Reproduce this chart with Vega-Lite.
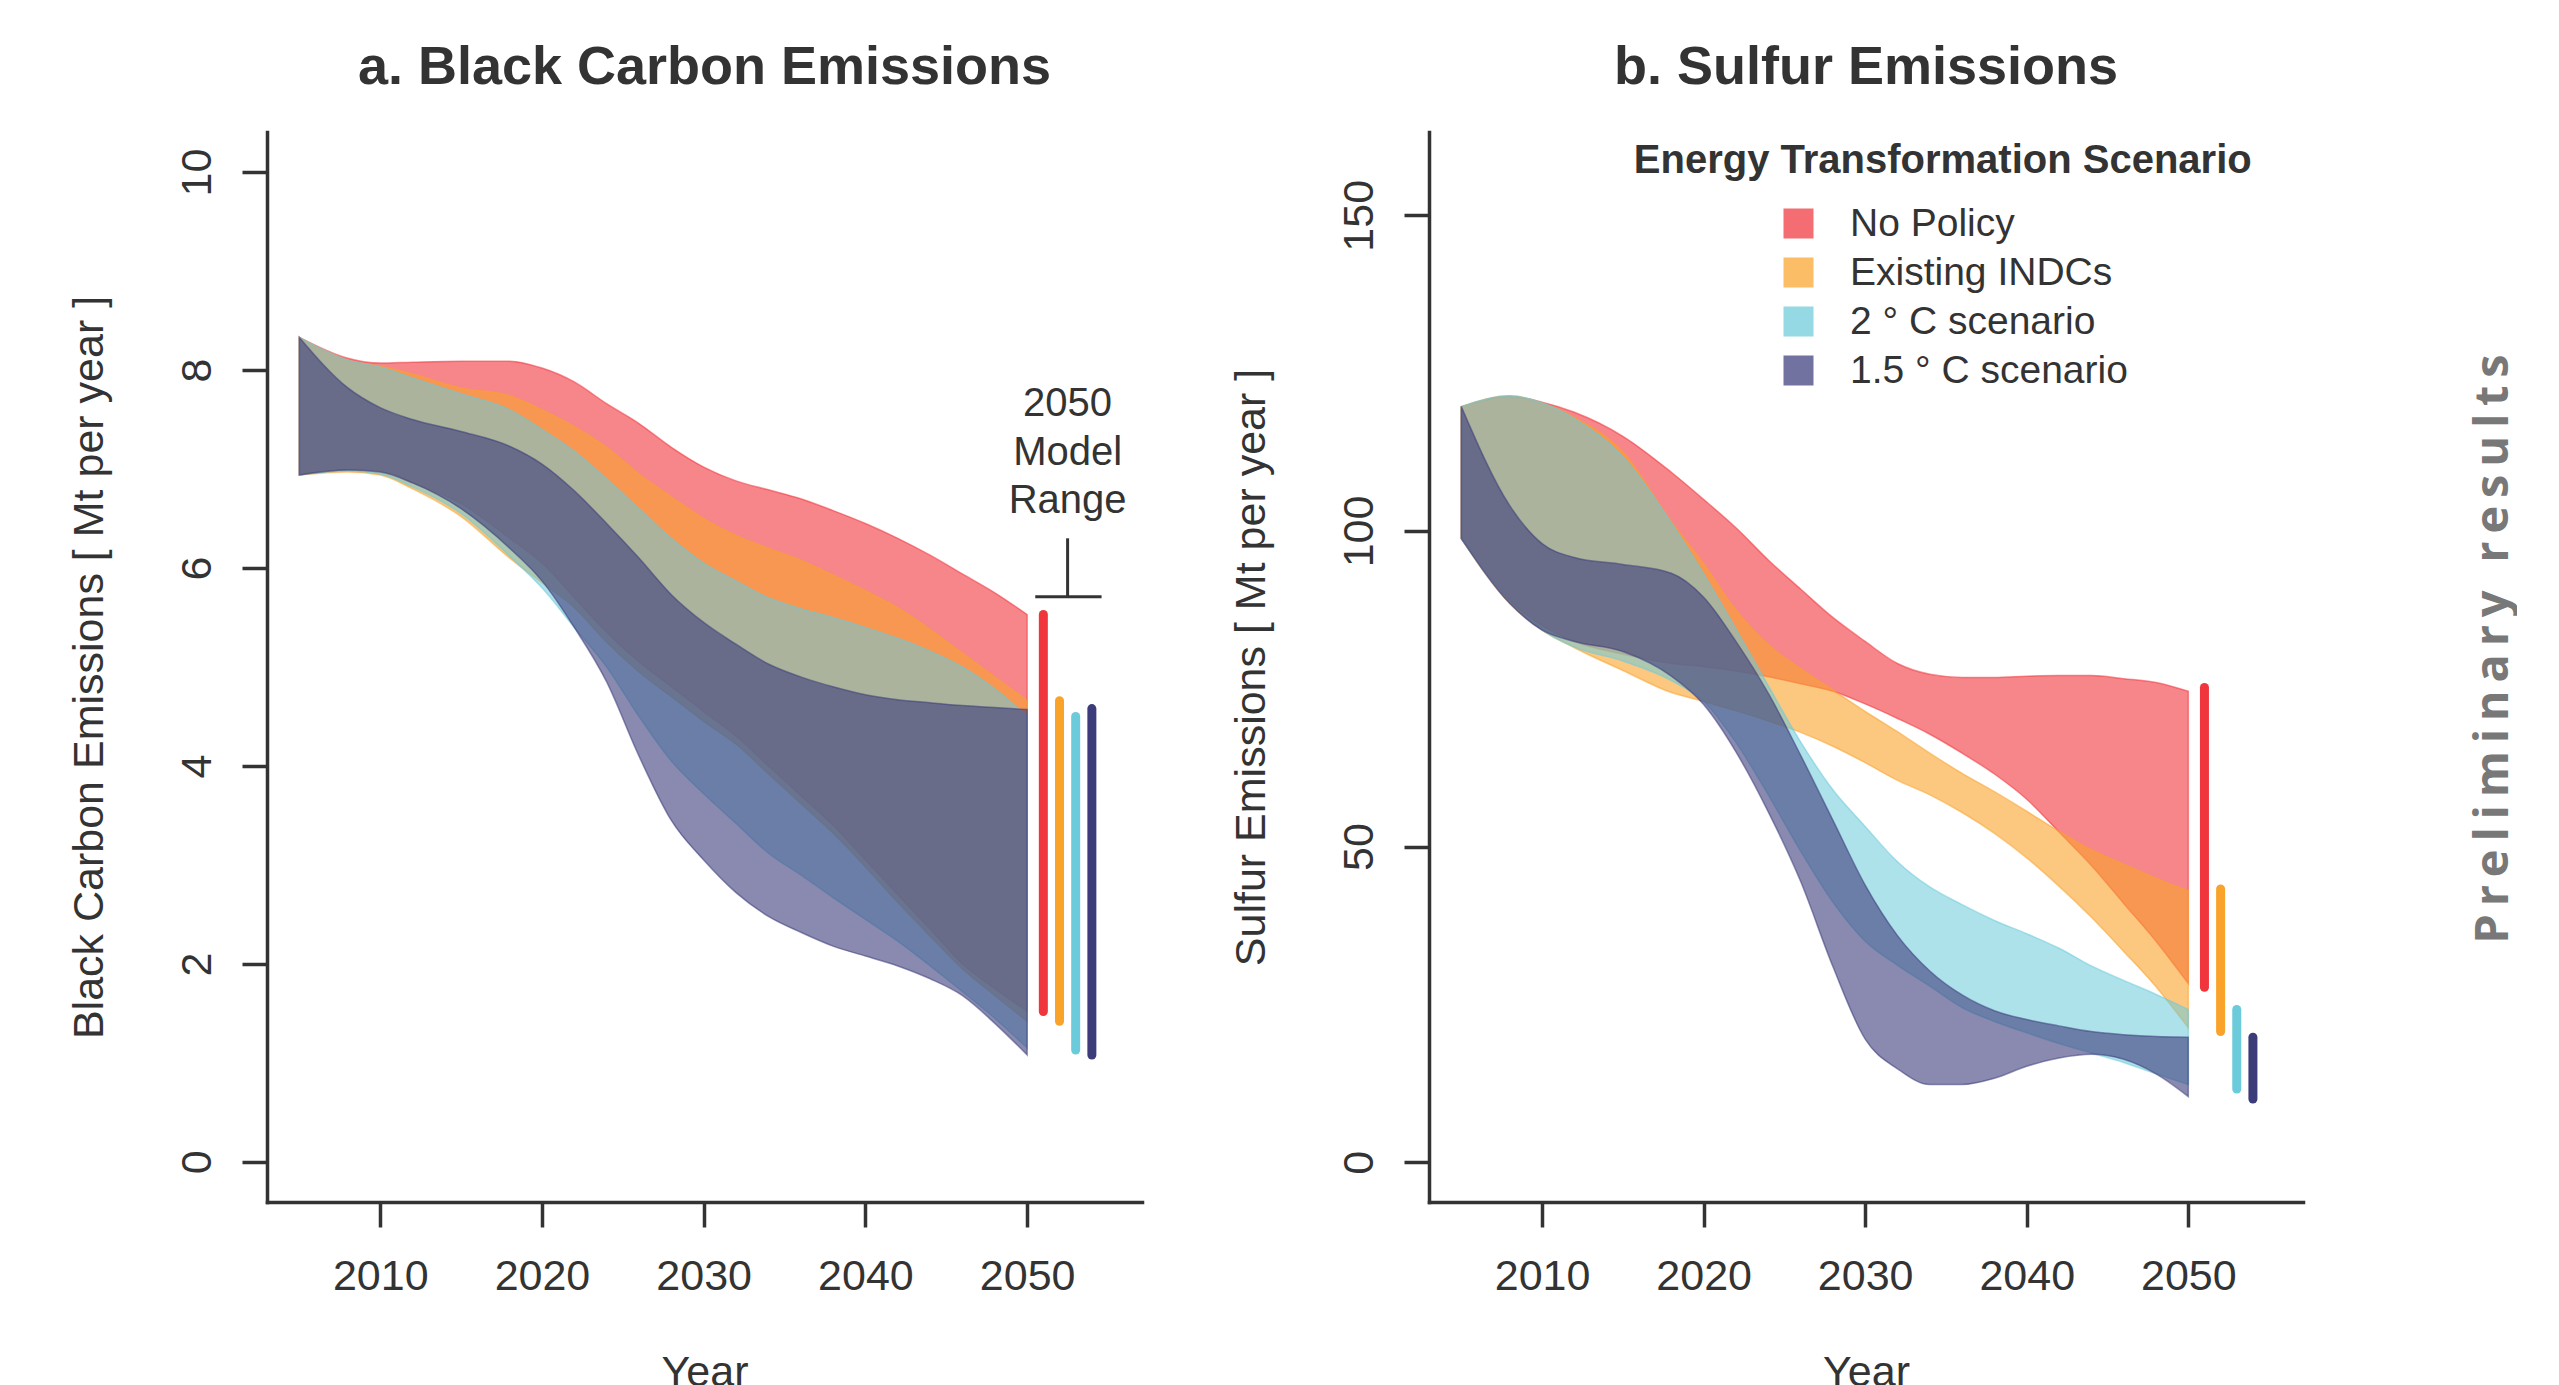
{
  "$schema": "https://vega.github.io/schema/vega-lite/v6.json",
  "padding": {"left": 68, "top": 41, "right": 0, "bottom": 0},
  "background": "white",
  "config": {
    "view": {"stroke": null},
    "font": "Liberation Sans",
    "axis": {
      "domainColor": "#333333", "domainWidth": 3.5, "domainCap": "square",
      "tickColor": "#333333", "tickWidth": 3.5, "tickSize": 25,
      "labelFont": "Liberation Sans", "labelFontSize": 43, "labelColor": "#333333",
      "titleFont": "Liberation Sans", "titleFontSize": 43, "titleFontWeight": "normal", "titleColor": "#333333",
      "grid": false, "labelFlush": false, "labelOverlap": false
    },
    "title": {"font": "Liberation Sans", "fontSize": 54, "fontWeight": "bold", "color": "#333333", "anchor": "middle", "frame": "group", "baseline": "alphabetic", "offset": 37}
  },
  "datasets": {
    "bc": [
      {"s": "No Policy", "year": 2005, "lo": 6.94, "hi": 8.33},
      {"s": "No Policy", "year": 2008, "lo": 6.99, "hi": 8.12},
      {"s": "No Policy", "year": 2010, "lo": 6.98, "hi": 8.07},
      {"s": "No Policy", "year": 2012, "lo": 6.86, "hi": 8.08},
      {"s": "No Policy", "year": 2015, "lo": 6.65, "hi": 8.09},
      {"s": "No Policy", "year": 2018, "lo": 6.3, "hi": 8.09},
      {"s": "No Policy", "year": 2020, "lo": 6.05, "hi": 8.02},
      {"s": "No Policy", "year": 2022, "lo": 5.7, "hi": 7.88},
      {"s": "No Policy", "year": 2024, "lo": 5.35, "hi": 7.66},
      {"s": "No Policy", "year": 2026, "lo": 5.05, "hi": 7.46},
      {"s": "No Policy", "year": 2028, "lo": 4.8, "hi": 7.22},
      {"s": "No Policy", "year": 2030, "lo": 4.55, "hi": 7.02},
      {"s": "No Policy", "year": 2032, "lo": 4.3, "hi": 6.88},
      {"s": "No Policy", "year": 2034, "lo": 4.0, "hi": 6.79},
      {"s": "No Policy", "year": 2036, "lo": 3.7, "hi": 6.7},
      {"s": "No Policy", "year": 2038, "lo": 3.4, "hi": 6.58},
      {"s": "No Policy", "year": 2040, "lo": 3.05, "hi": 6.45},
      {"s": "No Policy", "year": 2042, "lo": 2.7, "hi": 6.3},
      {"s": "No Policy", "year": 2044, "lo": 2.35, "hi": 6.13},
      {"s": "No Policy", "year": 2046, "lo": 2.0, "hi": 5.94},
      {"s": "No Policy", "year": 2048, "lo": 1.75, "hi": 5.75},
      {"s": "No Policy", "year": 2050, "lo": 1.52, "hi": 5.53},
      {"s": "Existing INDCs", "year": 2005, "lo": 6.94, "hi": 8.33},
      {"s": "Existing INDCs", "year": 2008, "lo": 6.97, "hi": 8.1},
      {"s": "Existing INDCs", "year": 2010, "lo": 6.94, "hi": 8.04},
      {"s": "Existing INDCs", "year": 2012, "lo": 6.8, "hi": 7.96},
      {"s": "Existing INDCs", "year": 2015, "lo": 6.52, "hi": 7.82},
      {"s": "Existing INDCs", "year": 2018, "lo": 6.1, "hi": 7.74},
      {"s": "Existing INDCs", "year": 2020, "lo": 5.85, "hi": 7.6},
      {"s": "Existing INDCs", "year": 2022, "lo": 5.6, "hi": 7.43},
      {"s": "Existing INDCs", "year": 2024, "lo": 5.25, "hi": 7.22},
      {"s": "Existing INDCs", "year": 2026, "lo": 4.95, "hi": 6.95},
      {"s": "Existing INDCs", "year": 2028, "lo": 4.7, "hi": 6.72},
      {"s": "Existing INDCs", "year": 2030, "lo": 4.45, "hi": 6.5},
      {"s": "Existing INDCs", "year": 2032, "lo": 4.22, "hi": 6.33},
      {"s": "Existing INDCs", "year": 2034, "lo": 3.92, "hi": 6.2},
      {"s": "Existing INDCs", "year": 2036, "lo": 3.62, "hi": 6.08},
      {"s": "Existing INDCs", "year": 2038, "lo": 3.32, "hi": 5.93},
      {"s": "Existing INDCs", "year": 2040, "lo": 2.98, "hi": 5.77},
      {"s": "Existing INDCs", "year": 2042, "lo": 2.62, "hi": 5.6},
      {"s": "Existing INDCs", "year": 2044, "lo": 2.28, "hi": 5.38},
      {"s": "Existing INDCs", "year": 2046, "lo": 1.95, "hi": 5.14},
      {"s": "Existing INDCs", "year": 2048, "lo": 1.68, "hi": 4.9},
      {"s": "Existing INDCs", "year": 2050, "lo": 1.42, "hi": 4.66},
      {"s": "2 ° C scenario", "year": 2005, "lo": 6.94, "hi": 8.33},
      {"s": "2 ° C scenario", "year": 2008, "lo": 6.98, "hi": 8.1},
      {"s": "2 ° C scenario", "year": 2010, "lo": 6.95, "hi": 8.03},
      {"s": "2 ° C scenario", "year": 2012, "lo": 6.82, "hi": 7.92},
      {"s": "2 ° C scenario", "year": 2015, "lo": 6.55, "hi": 7.76},
      {"s": "2 ° C scenario", "year": 2018, "lo": 6.12, "hi": 7.6},
      {"s": "2 ° C scenario", "year": 2020, "lo": 5.8, "hi": 7.4},
      {"s": "2 ° C scenario", "year": 2022, "lo": 5.4, "hi": 7.18},
      {"s": "2 ° C scenario", "year": 2024, "lo": 5.0, "hi": 6.9},
      {"s": "2 ° C scenario", "year": 2026, "lo": 4.5, "hi": 6.6},
      {"s": "2 ° C scenario", "year": 2028, "lo": 4.05, "hi": 6.3},
      {"s": "2 ° C scenario", "year": 2030, "lo": 3.72, "hi": 6.05},
      {"s": "2 ° C scenario", "year": 2032, "lo": 3.42, "hi": 5.87},
      {"s": "2 ° C scenario", "year": 2034, "lo": 3.12, "hi": 5.7},
      {"s": "2 ° C scenario", "year": 2036, "lo": 2.9, "hi": 5.59},
      {"s": "2 ° C scenario", "year": 2038, "lo": 2.67, "hi": 5.5},
      {"s": "2 ° C scenario", "year": 2040, "lo": 2.45, "hi": 5.4},
      {"s": "2 ° C scenario", "year": 2042, "lo": 2.23, "hi": 5.29},
      {"s": "2 ° C scenario", "year": 2044, "lo": 1.98, "hi": 5.16},
      {"s": "2 ° C scenario", "year": 2046, "lo": 1.72, "hi": 5.0},
      {"s": "2 ° C scenario", "year": 2048, "lo": 1.45, "hi": 4.78},
      {"s": "2 ° C scenario", "year": 2050, "lo": 1.15, "hi": 4.5},
      {"s": "1.5 ° C scenario", "year": 2005, "lo": 6.94, "hi": 8.33},
      {"s": "1.5 ° C scenario", "year": 2008, "lo": 6.99, "hi": 7.82},
      {"s": "1.5 ° C scenario", "year": 2010, "lo": 6.97, "hi": 7.62},
      {"s": "1.5 ° C scenario", "year": 2012, "lo": 6.86, "hi": 7.5},
      {"s": "1.5 ° C scenario", "year": 2015, "lo": 6.6, "hi": 7.38},
      {"s": "1.5 ° C scenario", "year": 2018, "lo": 6.2, "hi": 7.23},
      {"s": "1.5 ° C scenario", "year": 2020, "lo": 5.87, "hi": 7.05},
      {"s": "1.5 ° C scenario", "year": 2022, "lo": 5.4, "hi": 6.78},
      {"s": "1.5 ° C scenario", "year": 2024, "lo": 4.85, "hi": 6.45},
      {"s": "1.5 ° C scenario", "year": 2026, "lo": 4.1, "hi": 6.1},
      {"s": "1.5 ° C scenario", "year": 2028, "lo": 3.45, "hi": 5.73},
      {"s": "1.5 ° C scenario", "year": 2030, "lo": 3.05, "hi": 5.45},
      {"s": "1.5 ° C scenario", "year": 2032, "lo": 2.72, "hi": 5.23},
      {"s": "1.5 ° C scenario", "year": 2034, "lo": 2.48, "hi": 5.03},
      {"s": "1.5 ° C scenario", "year": 2036, "lo": 2.32, "hi": 4.9},
      {"s": "1.5 ° C scenario", "year": 2038, "lo": 2.18, "hi": 4.8},
      {"s": "1.5 ° C scenario", "year": 2040, "lo": 2.08, "hi": 4.72},
      {"s": "1.5 ° C scenario", "year": 2042, "lo": 1.98, "hi": 4.67},
      {"s": "1.5 ° C scenario", "year": 2044, "lo": 1.85, "hi": 4.64},
      {"s": "1.5 ° C scenario", "year": 2046, "lo": 1.68, "hi": 4.61},
      {"s": "1.5 ° C scenario", "year": 2048, "lo": 1.4, "hi": 4.59},
      {"s": "1.5 ° C scenario", "year": 2050, "lo": 1.08, "hi": 4.57}
    ],
    "so": [
      {"s": "No Policy", "year": 2005, "lo": 98.8, "hi": 119.7},
      {"s": "No Policy", "year": 2008, "lo": 89, "hi": 121.3},
      {"s": "No Policy", "year": 2010, "lo": 85, "hi": 120.4},
      {"s": "No Policy", "year": 2012, "lo": 82.5, "hi": 118.8},
      {"s": "No Policy", "year": 2015, "lo": 80.5, "hi": 115},
      {"s": "No Policy", "year": 2018, "lo": 79, "hi": 109.3},
      {"s": "No Policy", "year": 2020, "lo": 78.5, "hi": 105},
      {"s": "No Policy", "year": 2022, "lo": 77.8, "hi": 100.5},
      {"s": "No Policy", "year": 2024, "lo": 76.9, "hi": 95.4},
      {"s": "No Policy", "year": 2026, "lo": 75.8, "hi": 90.8},
      {"s": "No Policy", "year": 2028, "lo": 74.6, "hi": 86.3},
      {"s": "No Policy", "year": 2030, "lo": 72.6, "hi": 82.5},
      {"s": "No Policy", "year": 2032, "lo": 70.3, "hi": 79},
      {"s": "No Policy", "year": 2034, "lo": 67.8, "hi": 77.3},
      {"s": "No Policy", "year": 2036, "lo": 64.8, "hi": 76.8},
      {"s": "No Policy", "year": 2038, "lo": 61.5, "hi": 76.8},
      {"s": "No Policy", "year": 2040, "lo": 57.5, "hi": 77},
      {"s": "No Policy", "year": 2042, "lo": 52.3, "hi": 77.1},
      {"s": "No Policy", "year": 2044, "lo": 47, "hi": 77.1},
      {"s": "No Policy", "year": 2046, "lo": 41, "hi": 76.6},
      {"s": "No Policy", "year": 2048, "lo": 35, "hi": 76},
      {"s": "No Policy", "year": 2050, "lo": 28.3, "hi": 74.6},
      {"s": "Existing INDCs", "year": 2005, "lo": 98.8, "hi": 119.7},
      {"s": "Existing INDCs", "year": 2008, "lo": 88.5, "hi": 121.4},
      {"s": "Existing INDCs", "year": 2010, "lo": 84.3, "hi": 120.3},
      {"s": "Existing INDCs", "year": 2012, "lo": 81.5, "hi": 118},
      {"s": "Existing INDCs", "year": 2015, "lo": 77.9, "hi": 112.5},
      {"s": "Existing INDCs", "year": 2018, "lo": 74.4, "hi": 101.5},
      {"s": "Existing INDCs", "year": 2020, "lo": 73, "hi": 94.8},
      {"s": "Existing INDCs", "year": 2022, "lo": 71.5, "hi": 87.5},
      {"s": "Existing INDCs", "year": 2024, "lo": 69.9, "hi": 82},
      {"s": "Existing INDCs", "year": 2026, "lo": 68.1, "hi": 78.2},
      {"s": "Existing INDCs", "year": 2028, "lo": 65.9, "hi": 74.8},
      {"s": "Existing INDCs", "year": 2030, "lo": 63.3, "hi": 71.4},
      {"s": "Existing INDCs", "year": 2032, "lo": 60.5, "hi": 68.2},
      {"s": "Existing INDCs", "year": 2034, "lo": 58.2, "hi": 64.8},
      {"s": "Existing INDCs", "year": 2036, "lo": 55.4, "hi": 61.6},
      {"s": "Existing INDCs", "year": 2038, "lo": 52.1, "hi": 58.7},
      {"s": "Existing INDCs", "year": 2040, "lo": 48.2, "hi": 55.6},
      {"s": "Existing INDCs", "year": 2042, "lo": 43.7, "hi": 52.4},
      {"s": "Existing INDCs", "year": 2044, "lo": 38.8, "hi": 49.5},
      {"s": "Existing INDCs", "year": 2046, "lo": 33.4, "hi": 47.2},
      {"s": "Existing INDCs", "year": 2048, "lo": 27.8, "hi": 45},
      {"s": "Existing INDCs", "year": 2050, "lo": 21.3, "hi": 43},
      {"s": "2 ° C scenario", "year": 2005, "lo": 98.8, "hi": 119.7},
      {"s": "2 ° C scenario", "year": 2008, "lo": 88.8, "hi": 121.4},
      {"s": "2 ° C scenario", "year": 2010, "lo": 84.3, "hi": 120.3},
      {"s": "2 ° C scenario", "year": 2012, "lo": 81.6, "hi": 117.8},
      {"s": "2 ° C scenario", "year": 2015, "lo": 79.4, "hi": 111.8},
      {"s": "2 ° C scenario", "year": 2018, "lo": 76.3, "hi": 101.3},
      {"s": "2 ° C scenario", "year": 2020, "lo": 73, "hi": 93.2},
      {"s": "2 ° C scenario", "year": 2022, "lo": 66.5, "hi": 84.5},
      {"s": "2 ° C scenario", "year": 2024, "lo": 58.2, "hi": 75.5},
      {"s": "2 ° C scenario", "year": 2026, "lo": 49.3, "hi": 66.6},
      {"s": "2 ° C scenario", "year": 2028, "lo": 41.2, "hi": 59},
      {"s": "2 ° C scenario", "year": 2030, "lo": 35, "hi": 53.2},
      {"s": "2 ° C scenario", "year": 2032, "lo": 31.2, "hi": 47.6},
      {"s": "2 ° C scenario", "year": 2034, "lo": 27.9, "hi": 43.6},
      {"s": "2 ° C scenario", "year": 2036, "lo": 24.5, "hi": 40.8},
      {"s": "2 ° C scenario", "year": 2038, "lo": 22.3, "hi": 38.3},
      {"s": "2 ° C scenario", "year": 2040, "lo": 20.5, "hi": 36.2},
      {"s": "2 ° C scenario", "year": 2042, "lo": 18.8, "hi": 33.9},
      {"s": "2 ° C scenario", "year": 2044, "lo": 17.3, "hi": 31.1},
      {"s": "2 ° C scenario", "year": 2046, "lo": 15.8, "hi": 28.8},
      {"s": "2 ° C scenario", "year": 2048, "lo": 14, "hi": 26.6},
      {"s": "2 ° C scenario", "year": 2050, "lo": 12.3, "hi": 24.2},
      {"s": "1.5 ° C scenario", "year": 2005, "lo": 98.8, "hi": 119.7},
      {"s": "1.5 ° C scenario", "year": 2008, "lo": 88.5, "hi": 104},
      {"s": "1.5 ° C scenario", "year": 2010, "lo": 84.3, "hi": 98},
      {"s": "1.5 ° C scenario", "year": 2012, "lo": 82.5, "hi": 95.8},
      {"s": "1.5 ° C scenario", "year": 2015, "lo": 80.9, "hi": 94.7},
      {"s": "1.5 ° C scenario", "year": 2018, "lo": 77, "hi": 93.3},
      {"s": "1.5 ° C scenario", "year": 2020, "lo": 72.5, "hi": 89.5},
      {"s": "1.5 ° C scenario", "year": 2022, "lo": 65, "hi": 82.5},
      {"s": "1.5 ° C scenario", "year": 2024, "lo": 55.5, "hi": 74.3},
      {"s": "1.5 ° C scenario", "year": 2026, "lo": 44.5, "hi": 64.5},
      {"s": "1.5 ° C scenario", "year": 2028, "lo": 31, "hi": 54.2},
      {"s": "1.5 ° C scenario", "year": 2030, "lo": 19.5, "hi": 43.9},
      {"s": "1.5 ° C scenario", "year": 2032, "lo": 14.8, "hi": 35.9},
      {"s": "1.5 ° C scenario", "year": 2034, "lo": 12.3, "hi": 30.3},
      {"s": "1.5 ° C scenario", "year": 2036, "lo": 12.3, "hi": 26.5},
      {"s": "1.5 ° C scenario", "year": 2038, "lo": 13.3, "hi": 24},
      {"s": "1.5 ° C scenario", "year": 2040, "lo": 15.2, "hi": 22.6},
      {"s": "1.5 ° C scenario", "year": 2042, "lo": 16.5, "hi": 21.6},
      {"s": "1.5 ° C scenario", "year": 2044, "lo": 17.1, "hi": 20.7},
      {"s": "1.5 ° C scenario", "year": 2046, "lo": 16.3, "hi": 20.2},
      {"s": "1.5 ° C scenario", "year": 2048, "lo": 14, "hi": 19.9},
      {"s": "1.5 ° C scenario", "year": 2050, "lo": 10.4, "hi": 19.8}
    ],
    "bcr": [
      {"s": "No Policy", "year": 2051, "lo": 1.52, "hi": 5.53},
      {"s": "Existing INDCs", "year": 2052, "lo": 1.42, "hi": 4.66},
      {"s": "2 ° C scenario", "year": 2053, "lo": 1.13, "hi": 4.5},
      {"s": "1.5 ° C scenario", "year": 2054, "lo": 1.08, "hi": 4.58}
    ],
    "sor": [
      {"s": "No Policy", "year": 2051, "lo": 27.7, "hi": 75.2},
      {"s": "Existing INDCs", "year": 2052, "lo": 20.7, "hi": 43.3},
      {"s": "2 ° C scenario", "year": 2053, "lo": 11.6, "hi": 24.2},
      {"s": "1.5 ° C scenario", "year": 2054, "lo": 10.0, "hi": 19.8}
    ],
    "note": [
      {"t": "2050", "v": 7.54},
      {"t": "Model", "v": 7.04},
      {"t": "Range", "v": 6.56}
    ]
  },
  "resolve": {"scale": {"color": "independent"}},
  "spacing": 88,
  "hconcat": [
    {
      "width": 875,
      "height": 1070,
      "title": {"text": "a. Black Carbon Emissions"},
      "layer": [
        {
          "data": {"name": "bc"},
          "transform": [{"filter": "datum.s === 'No Policy'"}],
          "mark": {"type": "area", "interpolate": "monotone", "fillOpacity": 0.6, "stroke": "#f0353c", "strokeWidth": 1.5, "strokeOpacity": 0.55},
          "encoding": {
            "x": {"field": "year", "type": "quantitative", "scale": {"domain": [2003, 2057.1], "nice": false, "zero": false},
                  "axis": {"values": [2010, 2020, 2030, 2040, 2050], "format": "d", "labelBaseline": "alphabetic", "labelPadding": 62, "title": "Year", "titleBaseline": "alphabetic", "titleY": 183}},
            "y": {"field": "lo", "type": "quantitative", "scale": {"domain": [-0.405, 10.405], "nice": false, "zero": false},
                  "axis": {"values": [0, 2, 4, 6, 8, 10], "format": "d", "labelAngle": -90, "labelAlign": "center", "labelBaseline": "alphabetic", "labelPadding": 32, "title": "Black Carbon Emissions [ Mt per year ]", "titleAngle": -90, "titleBaseline": "middle", "titleAlign": "center", "titleX": -178, "titleY": 535}},
            "y2": {"field": "hi"},
            "color": {"field": "s", "type": "nominal", "legend": null,
                      "scale": {"domain": ["No Policy", "Existing INDCs", "2 ° C scenario", "1.5 ° C scenario"], "range": ["#f0353c", "#faa32b", "#6ccbda", "#3c3c7b"]}}
          }
        },
        {
          "data": {"name": "bc"},
          "transform": [{"filter": "datum.s === 'Existing INDCs'"}],
          "mark": {"type": "area", "interpolate": "monotone", "fillOpacity": 0.6, "stroke": "#faa32b", "strokeWidth": 1.5, "strokeOpacity": 0.55},
          "encoding": {
            "x": {"field": "year", "type": "quantitative"},
            "y": {"field": "lo", "type": "quantitative"},
            "y2": {"field": "hi"},
            "color": {"field": "s", "type": "nominal", "legend": null}
          }
        },
        {
          "data": {"name": "bc"},
          "transform": [{"filter": "datum.s === '2 ° C scenario'"}],
          "mark": {"type": "area", "interpolate": "monotone", "fillOpacity": 0.55, "stroke": "#6ccbda", "strokeWidth": 1.5, "strokeOpacity": 0.55},
          "encoding": {
            "x": {"field": "year", "type": "quantitative"},
            "y": {"field": "lo", "type": "quantitative"},
            "y2": {"field": "hi"},
            "color": {"field": "s", "type": "nominal", "legend": null}
          }
        },
        {
          "data": {"name": "bc"},
          "transform": [{"filter": "datum.s === '1.5 ° C scenario'"}],
          "mark": {"type": "area", "interpolate": "monotone", "fillOpacity": 0.6, "stroke": "#3c3c7b", "strokeWidth": 1.5, "strokeOpacity": 0.55},
          "encoding": {
            "x": {"field": "year", "type": "quantitative"},
            "y": {"field": "lo", "type": "quantitative"},
            "y2": {"field": "hi"},
            "color": {"field": "s", "type": "nominal", "legend": null}
          }
        },
        {
          "data": {"name": "bcr"},
          "mark": {"type": "rule", "strokeWidth": 9, "strokeCap": "round"},
          "encoding": {
            "x": {"field": "year", "type": "quantitative"},
            "y": {"field": "lo", "type": "quantitative"},
            "y2": {"field": "hi"},
            "color": {"field": "s", "type": "nominal", "legend": null}
          }
        },
        {
          "data": {"name": "note"},
          "mark": {"type": "text", "fontSize": 40, "align": "center", "baseline": "alphabetic", "color": "#333333"},
          "encoding": {
            "x": {"datum": 2052.5},
            "y": {"field": "v", "type": "quantitative"},
            "text": {"field": "t"}
          }
        },
        {
          "data": {"values": [{}]},
          "mark": {"type": "rule", "strokeWidth": 3, "color": "#333333"},
          "encoding": {"x": {"datum": 2052.5}, "y": {"datum": 5.71}, "y2": {"datum": 6.3}}
        },
        {
          "data": {"values": [{}]},
          "mark": {"type": "rule", "strokeWidth": 3, "color": "#333333"},
          "encoding": {"x": {"datum": 2050.5}, "x2": {"datum": 2054.6}, "y": {"datum": 5.71}}
        }
      ]
    },
    {
      "width": 874,
      "height": 1070,
      "title": {"text": "b. Sulfur Emissions"},
      "layer": [
        {
          "data": {"name": "so"},
          "transform": [{"filter": "datum.s === 'No Policy'"}],
          "mark": {"type": "area", "interpolate": "monotone", "fillOpacity": 0.6, "stroke": "#f0353c", "strokeWidth": 1.5, "strokeOpacity": 0.55},
          "encoding": {
            "x": {"field": "year", "type": "quantitative", "scale": {"domain": [2003, 2057.1], "nice": false, "zero": false},
                  "axis": {"values": [2010, 2020, 2030, 2040, 2050], "format": "d", "labelBaseline": "alphabetic", "labelPadding": 62, "title": "Year", "titleBaseline": "alphabetic", "titleY": 183}},
            "y": {"field": "lo", "type": "quantitative", "scale": {"domain": [-6.3, 163.2], "nice": false, "zero": false},
                  "axis": {"values": [0, 50, 100, 150], "format": "d", "labelAngle": -90, "labelAlign": "center", "labelBaseline": "alphabetic", "labelPadding": 32, "title": "Sulfur Emissions [ Mt per year ]", "titleAngle": -90, "titleBaseline": "middle", "titleAlign": "center", "titleX": -178, "titleY": 535}},
            "y2": {"field": "hi"},
            "color": {"field": "s", "type": "nominal",
                      "scale": {"domain": ["No Policy", "Existing INDCs", "2 ° C scenario", "1.5 ° C scenario"], "range": ["#f0353c", "#faa32b", "#6ccbda", "#3c3c7b"]},
                      "legend": {"title": null, "orient": "none", "legendX": 350, "legendY": 72, "symbolType": "square", "symbolSize": 900, "symbolOpacity": 0.72, "symbolStrokeWidth": 0, "labelFontSize": 39, "labelColor": "#333333", "labelLimit": 1000, "labelOffset": 32, "rowPadding": 9}}
          }
        },
        {
          "data": {"name": "so"},
          "transform": [{"filter": "datum.s === 'Existing INDCs'"}],
          "mark": {"type": "area", "interpolate": "monotone", "fillOpacity": 0.6, "stroke": "#faa32b", "strokeWidth": 1.5, "strokeOpacity": 0.55},
          "encoding": {
            "x": {"field": "year", "type": "quantitative"},
            "y": {"field": "lo", "type": "quantitative"},
            "y2": {"field": "hi"},
            "color": {"field": "s", "type": "nominal"}
          }
        },
        {
          "data": {"name": "so"},
          "transform": [{"filter": "datum.s === '2 ° C scenario'"}],
          "mark": {"type": "area", "interpolate": "monotone", "fillOpacity": 0.55, "stroke": "#6ccbda", "strokeWidth": 1.5, "strokeOpacity": 0.55},
          "encoding": {
            "x": {"field": "year", "type": "quantitative"},
            "y": {"field": "lo", "type": "quantitative"},
            "y2": {"field": "hi"},
            "color": {"field": "s", "type": "nominal"}
          }
        },
        {
          "data": {"name": "so"},
          "transform": [{"filter": "datum.s === '1.5 ° C scenario'"}],
          "mark": {"type": "area", "interpolate": "monotone", "fillOpacity": 0.6, "stroke": "#3c3c7b", "strokeWidth": 1.5, "strokeOpacity": 0.55},
          "encoding": {
            "x": {"field": "year", "type": "quantitative"},
            "y": {"field": "lo", "type": "quantitative"},
            "y2": {"field": "hi"},
            "color": {"field": "s", "type": "nominal"}
          }
        },
        {
          "data": {"name": "sor"},
          "mark": {"type": "rule", "strokeWidth": 9, "strokeCap": "round"},
          "encoding": {
            "x": {"field": "year", "type": "quantitative"},
            "y": {"field": "lo", "type": "quantitative"},
            "y2": {"field": "hi"},
            "color": {"field": "s", "type": "nominal"}
          }
        },
        {
          "data": {"values": [{}]},
          "mark": {"type": "text", "text": "Energy Transformation Scenario", "fontSize": 40, "fontWeight": "bold", "align": "center", "baseline": "middle", "color": "#333333"},
          "encoding": {"x": {"datum": 2034.8}, "y": {"datum": 158.6}}
        },
        {
          "data": {"values": [{}]},
          "mark": {"type": "text", "text": "P\u2009r\u2009e\u2009l\u2009i\u2009m\u2009i\u2009n\u2009a\u2009r\u2009y\u2009 \u2009r\u2009e\u2009s\u2009u\u2009l\u2009t\u2009s", "font": "Open Sans", "fontSize": 47, "fontWeight": "bold", "angle": 270, "align": "center", "baseline": "middle", "color": "#787878"},
          "encoding": {"x": {"datum": 2068.9}, "y": {"datum": 81.3}}
        }
      ]
    }
  ]
}
